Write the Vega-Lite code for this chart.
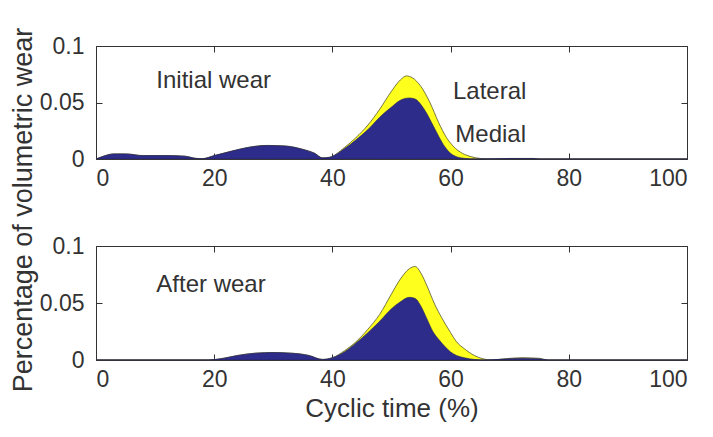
{
  "$schema": "https://vega.github.io/schema/vega-lite/v6.json",
  "padding": {"left": 8, "top": 26, "right": 5, "bottom": 5},
  "background": "white",
  "config": {
    "font": "Liberation Sans",
    "view": {"stroke": "#333333", "strokeWidth": 1},
    "axis": {"grid": false, "domain": false, "tickColor": "#333333", "tickWidth": 1, "zindex": 1, "labelColor": "#333333", "titleColor": "#333333", "labelFont": "Liberation Sans", "titleFont": "Liberation Sans", "titleFontWeight": "normal", "labelFontSize": 23, "titleFontSize": 26}
  },
  "datasets": {
    "top": [
      {"t": 0, "v": 0, "side": "Lateral"}, {"t": 1, "v": 0.002, "side": "Lateral"}, {"t": 3, "v": 0.0045, "side": "Lateral"}, {"t": 5, "v": 0.0045, "side": "Lateral"}, {"t": 8, "v": 0.003, "side": "Lateral"}, {"t": 12, "v": 0.003, "side": "Lateral"}, {"t": 15, "v": 0.0025, "side": "Lateral"}, {"t": 17, "v": 0.0005, "side": "Lateral"}, {"t": 18, "v": 0.0003, "side": "Lateral"}, {"t": 20, "v": 0.003, "side": "Lateral"}, {"t": 23, "v": 0.007, "side": "Lateral"}, {"t": 26, "v": 0.0105, "side": "Lateral"}, {"t": 29, "v": 0.012, "side": "Lateral"}, {"t": 32, "v": 0.0115, "side": "Lateral"}, {"t": 35, "v": 0.0085, "side": "Lateral"}, {"t": 37, "v": 0.005, "side": "Lateral"}, {"t": 38.3, "v": 0.001, "side": "Lateral"}, {"t": 39.5, "v": 0.0015, "side": "Lateral"}, {"t": 42, "v": 0.01, "side": "Lateral"}, {"t": 44, "v": 0.019, "side": "Lateral"}, {"t": 46, "v": 0.03, "side": "Lateral"}, {"t": 48, "v": 0.044, "side": "Lateral"}, {"t": 50, "v": 0.06, "side": "Lateral"}, {"t": 51.5, "v": 0.07, "side": "Lateral"}, {"t": 52.5, "v": 0.0735, "side": "Lateral"}, {"t": 53.5, "v": 0.072, "side": "Lateral"}, {"t": 55, "v": 0.064, "side": "Lateral"}, {"t": 56.5, "v": 0.05, "side": "Lateral"}, {"t": 58, "v": 0.032, "side": "Lateral"}, {"t": 59.3, "v": 0.019, "side": "Lateral"}, {"t": 60.5, "v": 0.011, "side": "Lateral"}, {"t": 62, "v": 0.005, "side": "Lateral"}, {"t": 63.5, "v": 0.002, "side": "Lateral"}, {"t": 65, "v": 0.0005, "side": "Lateral"}, {"t": 67, "v": 0, "side": "Lateral"}, {"t": 70, "v": 0.0005, "side": "Lateral"}, {"t": 74, "v": 0.0005, "side": "Lateral"}, {"t": 75, "v": 0, "side": "Lateral"}, {"t": 100, "v": 0, "side": "Lateral"},
      {"t": 0, "v": 0, "side": "Medial"}, {"t": 1, "v": 0.002, "side": "Medial"}, {"t": 3, "v": 0.0045, "side": "Medial"}, {"t": 5, "v": 0.0045, "side": "Medial"}, {"t": 8, "v": 0.003, "side": "Medial"}, {"t": 12, "v": 0.003, "side": "Medial"}, {"t": 15, "v": 0.0025, "side": "Medial"}, {"t": 17, "v": 0.0005, "side": "Medial"}, {"t": 18, "v": 0.0003, "side": "Medial"}, {"t": 20, "v": 0.003, "side": "Medial"}, {"t": 23, "v": 0.007, "side": "Medial"}, {"t": 26, "v": 0.0105, "side": "Medial"}, {"t": 29, "v": 0.012, "side": "Medial"}, {"t": 32, "v": 0.0115, "side": "Medial"}, {"t": 35, "v": 0.0085, "side": "Medial"}, {"t": 37, "v": 0.005, "side": "Medial"}, {"t": 38.3, "v": 0.001, "side": "Medial"}, {"t": 39.5, "v": 0.0015, "side": "Medial"}, {"t": 42, "v": 0.009, "side": "Medial"}, {"t": 44, "v": 0.017, "side": "Medial"}, {"t": 46, "v": 0.026, "side": "Medial"}, {"t": 48, "v": 0.037, "side": "Medial"}, {"t": 50, "v": 0.046, "side": "Medial"}, {"t": 51.5, "v": 0.052, "side": "Medial"}, {"t": 53, "v": 0.054, "side": "Medial"}, {"t": 54, "v": 0.053, "side": "Medial"}, {"t": 55, "v": 0.048, "side": "Medial"}, {"t": 56, "v": 0.04, "side": "Medial"}, {"t": 57, "v": 0.03, "side": "Medial"}, {"t": 58, "v": 0.02, "side": "Medial"}, {"t": 59, "v": 0.011, "side": "Medial"}, {"t": 60, "v": 0.005, "side": "Medial"}, {"t": 61, "v": 0.002, "side": "Medial"}, {"t": 62.5, "v": 0.0005, "side": "Medial"}, {"t": 64, "v": 0, "side": "Medial"}, {"t": 70, "v": 0.0004, "side": "Medial"}, {"t": 74, "v": 0.0004, "side": "Medial"}, {"t": 75, "v": 0, "side": "Medial"}, {"t": 100, "v": 0, "side": "Medial"}
    ],
    "bottom": [
      {"t": 0, "v": 0, "side": "Lateral"}, {"t": 19, "v": 0, "side": "Lateral"}, {"t": 21, "v": 0.001, "side": "Lateral"}, {"t": 24, "v": 0.004, "side": "Lateral"}, {"t": 27, "v": 0.006, "side": "Lateral"}, {"t": 30, "v": 0.0065, "side": "Lateral"}, {"t": 33, "v": 0.006, "side": "Lateral"}, {"t": 36, "v": 0.004, "side": "Lateral"}, {"t": 38.3, "v": 0.0005, "side": "Lateral"}, {"t": 40, "v": 0.002, "side": "Lateral"}, {"t": 42, "v": 0.008, "side": "Lateral"}, {"t": 44, "v": 0.016, "side": "Lateral"}, {"t": 46, "v": 0.027, "side": "Lateral"}, {"t": 48, "v": 0.04, "side": "Lateral"}, {"t": 50, "v": 0.058, "side": "Lateral"}, {"t": 51.5, "v": 0.071, "side": "Lateral"}, {"t": 53, "v": 0.08, "side": "Lateral"}, {"t": 54, "v": 0.082, "side": "Lateral"}, {"t": 55, "v": 0.076, "side": "Lateral"}, {"t": 56, "v": 0.065, "side": "Lateral"}, {"t": 57.3, "v": 0.049, "side": "Lateral"}, {"t": 58.5, "v": 0.037, "side": "Lateral"}, {"t": 60, "v": 0.024, "side": "Lateral"}, {"t": 61, "v": 0.016, "side": "Lateral"}, {"t": 62.3, "v": 0.01, "side": "Lateral"}, {"t": 64, "v": 0.004, "side": "Lateral"}, {"t": 65.5, "v": 0.001, "side": "Lateral"}, {"t": 67, "v": 0, "side": "Lateral"}, {"t": 69, "v": 0.001, "side": "Lateral"}, {"t": 72, "v": 0.002, "side": "Lateral"}, {"t": 75, "v": 0.0015, "side": "Lateral"}, {"t": 76.5, "v": 0, "side": "Lateral"}, {"t": 100, "v": 0, "side": "Lateral"},
      {"t": 0, "v": 0, "side": "Medial"}, {"t": 19, "v": 0, "side": "Medial"}, {"t": 21, "v": 0.001, "side": "Medial"}, {"t": 24, "v": 0.004, "side": "Medial"}, {"t": 27, "v": 0.006, "side": "Medial"}, {"t": 30, "v": 0.0065, "side": "Medial"}, {"t": 33, "v": 0.006, "side": "Medial"}, {"t": 36, "v": 0.004, "side": "Medial"}, {"t": 38.3, "v": 0.0005, "side": "Medial"}, {"t": 40, "v": 0.002, "side": "Medial"}, {"t": 42, "v": 0.007, "side": "Medial"}, {"t": 44, "v": 0.015, "side": "Medial"}, {"t": 46, "v": 0.024, "side": "Medial"}, {"t": 48, "v": 0.034, "side": "Medial"}, {"t": 50, "v": 0.045, "side": "Medial"}, {"t": 51.5, "v": 0.051, "side": "Medial"}, {"t": 53, "v": 0.055, "side": "Medial"}, {"t": 54, "v": 0.054, "side": "Medial"}, {"t": 55, "v": 0.047, "side": "Medial"}, {"t": 56, "v": 0.036, "side": "Medial"}, {"t": 57, "v": 0.025, "side": "Medial"}, {"t": 58, "v": 0.018, "side": "Medial"}, {"t": 59, "v": 0.012, "side": "Medial"}, {"t": 60, "v": 0.007, "side": "Medial"}, {"t": 61, "v": 0.004, "side": "Medial"}, {"t": 62.3, "v": 0.002, "side": "Medial"}, {"t": 64, "v": 0.0005, "side": "Medial"}, {"t": 66, "v": 0, "side": "Medial"}, {"t": 69, "v": 0.0008, "side": "Medial"}, {"t": 72, "v": 0.0015, "side": "Medial"}, {"t": 75, "v": 0.001, "side": "Medial"}, {"t": 76.5, "v": 0, "side": "Medial"}, {"t": 100, "v": 0, "side": "Medial"}
    ],
    "labelsTop": [
      {"label": "Initial wear", "t": 10.2, "v": 0.069},
      {"label": "Lateral", "t": 60.4, "v": 0.059},
      {"label": "Medial", "t": 60.8, "v": 0.021}
    ],
    "labelsBottom": [
      {"label": "After wear", "t": 10.2, "v": 0.066}
    ]
  },
  "bounds": "flush",
  "spacing": 87,
  "vconcat": [
    {
      "width": 591,
      "height": 113,
      "resolve": {"axis": {"x": "independent", "y": "independent"}},
      "layer": [
        {
          "data": {"name": "top"},
          "transform": [{"filter": "datum.side == 'Lateral'"}],
          "mark": {"type": "area", "interpolate": "monotone", "fill": "#FFFF1E", "fillOpacity": 1, "stroke": "#55552a", "strokeWidth": 0.8},
          "encoding": {
            "x": {"field": "t", "type": "quantitative", "scale": {"domain": [0, 100], "nice": false}, "axis": {"orient": "bottom", "values": [0, 20, 40, 60, 80, 100], "title": null, "tickSize": -6, "labelPadding": 14}},
            "y": {"field": "v", "type": "quantitative", "scale": {"domain": [0, 0.1], "nice": false}, "axis": {"orient": "left", "values": [0, 0.05, 0.1], "format": "~g", "tickSize": -6, "labelPadding": 18, "title": "Percentage of volumetric wear", "titleFontSize": 27, "titleX": -73, "titleY": 163.5, "titleAngle": 270, "titleAlign": "center", "titleBaseline": "middle"}}
          }
        },
        {
          "data": {"name": "top"},
          "transform": [{"filter": "datum.side == 'Medial'"}],
          "mark": {"type": "area", "interpolate": "monotone", "fill": "#2E2C8A", "fillOpacity": 1, "stroke": "#1e1e55", "strokeWidth": 0.6},
          "encoding": {
            "x": {"field": "t", "type": "quantitative", "axis": {"orient": "top", "values": [0, 20, 40, 60, 80, 100], "labels": false, "title": null, "tickSize": -6}},
            "y": {"field": "v", "type": "quantitative", "axis": {"orient": "right", "values": [0, 0.05, 0.1], "labels": false, "title": null, "tickSize": -6}}
          }
        },
        {
          "data": {"name": "labelsTop"},
          "mark": {"type": "text", "align": "left", "baseline": "middle", "fontSize": 24, "color": "#333333"},
          "encoding": {"x": {"field": "t", "type": "quantitative", "axis": null}, "y": {"field": "v", "type": "quantitative", "axis": null}, "text": {"field": "label"}}
        }
      ]
    },
    {
      "width": 591,
      "height": 114,
      "resolve": {"axis": {"x": "independent", "y": "independent"}},
      "layer": [
        {
          "data": {"name": "bottom"},
          "transform": [{"filter": "datum.side == 'Lateral'"}],
          "mark": {"type": "area", "interpolate": "monotone", "fill": "#FFFF1E", "fillOpacity": 1, "stroke": "#55552a", "strokeWidth": 0.8},
          "encoding": {
            "x": {"field": "t", "type": "quantitative", "scale": {"domain": [0, 100], "nice": false}, "axis": {"orient": "bottom", "values": [0, 20, 40, 60, 80, 100], "title": "Cyclic time (%)", "titlePadding": 4, "tickSize": -6, "labelPadding": 14}},
            "y": {"field": "v", "type": "quantitative", "scale": {"domain": [0, 0.1], "nice": false}, "axis": {"orient": "left", "values": [0, 0.05, 0.1], "format": "~g", "tickSize": -6, "labelPadding": 18, "title": null}}
          }
        },
        {
          "data": {"name": "bottom"},
          "transform": [{"filter": "datum.side == 'Medial'"}],
          "mark": {"type": "area", "interpolate": "monotone", "fill": "#2E2C8A", "fillOpacity": 1, "stroke": "#1e1e55", "strokeWidth": 0.6},
          "encoding": {
            "x": {"field": "t", "type": "quantitative", "axis": {"orient": "top", "values": [0, 20, 40, 60, 80, 100], "labels": false, "title": null, "tickSize": -6}},
            "y": {"field": "v", "type": "quantitative", "axis": {"orient": "right", "values": [0, 0.05, 0.1], "labels": false, "title": null, "tickSize": -6}}
          }
        },
        {
          "data": {"name": "labelsBottom"},
          "mark": {"type": "text", "align": "left", "baseline": "middle", "fontSize": 24, "color": "#333333"},
          "encoding": {"x": {"field": "t", "type": "quantitative", "axis": null}, "y": {"field": "v", "type": "quantitative", "axis": null}, "text": {"field": "label"}}
        }
      ]
    }
  ]
}
